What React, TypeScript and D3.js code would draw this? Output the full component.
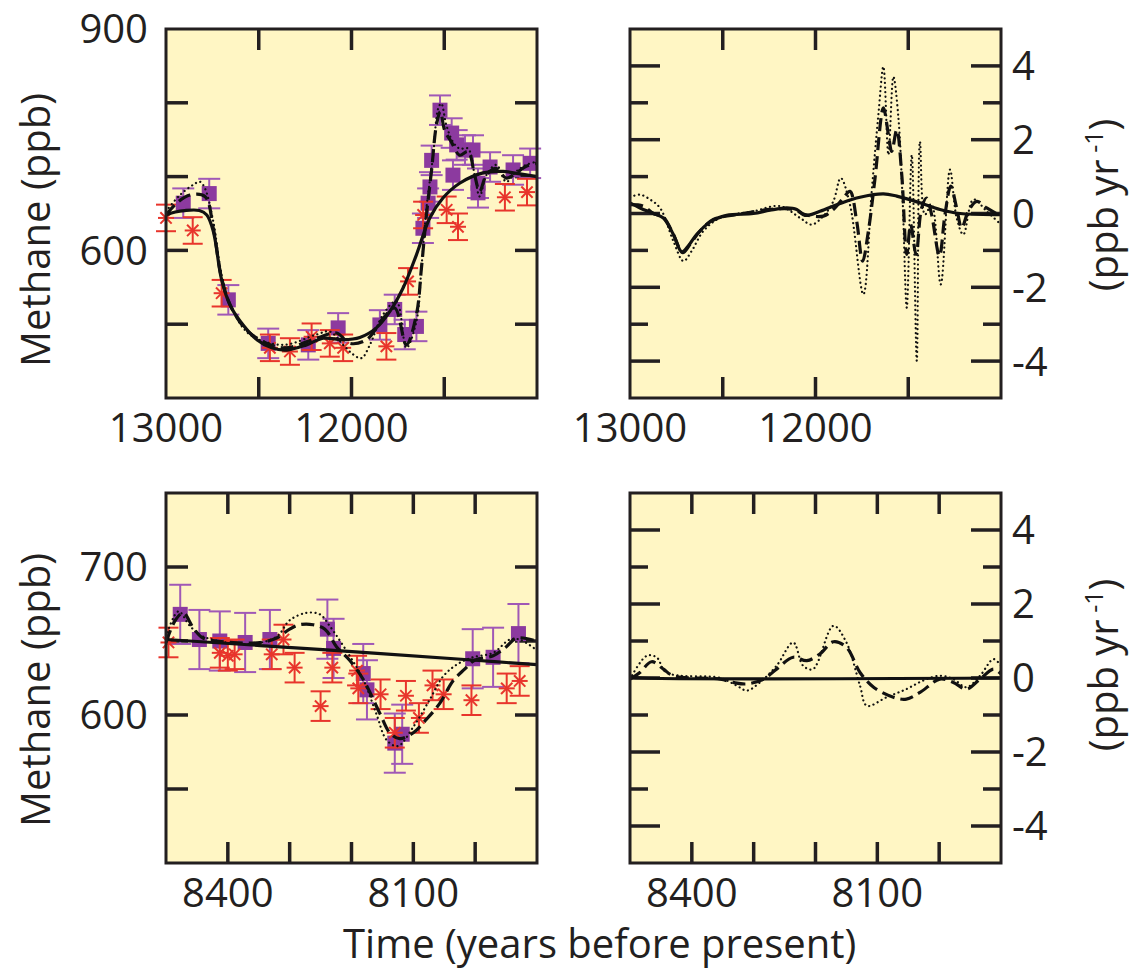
import * as d3 from 'd3';

type P = [number, number];

// ---- top row: 13000-11000 yr BP ----
const tlPurple: P[] = [[12907,664],[12767,677],[12664,533],[12449,474],[12233,472],[12072,495],[11847,499],[11767,520],[11713,486],[11650,497],[11615,630],[11587,664],[11577,686],[11568,722],[11523,790],[11460,759],[11433,743],[11453,702],[11388,736],[11345,736],[11318,691],[11318,678],[11253,713],[11129,709],[11037,718]];
const tlRed: P[] = [[13000,644],[12856,627],[12700,542],[12440,468],[12332,463],[12215,483],[12117,474],[12045,468],[11812,470],[11695,558],[11614,648],[11487,655],[11426,632],[11173,672],[11054,679]];
const tlSolid: P[] = [[13000,648],[12950,652],[12900,654],[12820,654],[12780,648],[12745,626],[12700,560],[12655,526],[12600,504],[12510,479],[12430,468],[12350,465],[12243,472],[12153,481],[12045,479],[11955,482],[11866,495],[11794,517],[11722,549],[11650,594],[11578,644],[11507,671],[11417,691],[11291,705],[11183,707],[11100,704],[11000,700]];
const tlDashed: P[] = [[13000,648],[12943,664],[12871,675],[12790,673],[12745,630],[12700,562],[12646,522],[12548,488],[12368,468],[12189,481],[12081,488],[12009,474],[11919,479],[11830,508],[11767,522],[11704,472],[11650,513],[11623,576],[11596,648],[11569,707],[11542,770],[11521,788],[11498,763],[11462,747],[11417,729],[11372,734],[11336,702],[11309,680],[11273,702],[11219,711],[11166,698],[11112,705],[11058,714],[11004,718]];
const tlDotted: P[] = [[13000,653],[12925,675],[12853,689],[12817,693],[12790,684],[12745,639],[12700,567],[12646,522],[12548,486],[12368,472],[12189,486],[12117,490],[12045,472],[11991,459],[11946,454],[11901,472],[11830,513],[11758,531],[11704,468],[11650,504],[11623,576],[11596,657],[11560,729],[11533,792],[11516,799],[11489,770],[11453,747],[11417,738],[11372,738],[11336,702],[11309,673],[11273,702],[11219,716],[11166,693],[11112,707],[11058,716],[11004,720]];

const trSolid: P[] = [[13000,0.29],[12946,0.15],[12874,0],[12820,-0.12],[12766,-0.57],[12721,-1.04],[12686,-0.88],[12641,-0.57],[12569,-0.23],[12479,-0.05],[12335,0],[12245,0.09],[12155,0.15],[12101,0.11],[12057,-0.05],[11976,0.06],[11868,0.27],[11760,0.44],[11634,0.53],[11562,0.47],[11437,0.29],[11329,0.11],[11221,0],[11000,-0.03]];
const trDashed: P[] = [[13000,0.24],[12928,0.2],[12874,0],[12820,-0.1],[12766,-0.57],[12716,-1.06],[12677,-0.84],[12623,-0.48],[12551,-0.16],[12425,-0.03],[12245,0.11],[12119,0.11],[12057,-0.03],[11958,-0.07],[11904,0.11],[11850,0.42],[11814,0.6],[11778,-0.21],[11746,-1.29],[11715,-0.48],[11679,0.96],[11634,2.86],[11607,2.14],[11589,1.68],[11562,2.27],[11535,1.05],[11508,-1.11],[11487,-0.3],[11458,-1.11],[11428,0.15],[11401,0.42],[11374,-0.03],[11332,-1.15],[11302,-0.03],[11271,0.74],[11239,0.15],[11212,-0.39],[11176,0.06],[11131,0.33],[11077,0.15],[11000,-0.07]];
const trDotted: P[] = [[13000,0.44],[12946,0.51],[12892,0.38],[12838,0.15],[12766,-0.75],[12712,-1.29],[12668,-1.02],[12605,-0.48],[12515,-0.12],[12335,0.06],[12191,0.2],[12083,-0.12],[12021,-0.3],[11958,-0.07],[11904,0.33],[11864,0.96],[11814,0.24],[11742,-2.19],[11697,0.6],[11661,2.68],[11634,3.98],[11607,1.59],[11580,3.71],[11553,2.59],[11530,0.33],[11508,-2.55],[11481,1.59],[11454,-3.99],[11437,1.95],[11410,-0.03],[11374,0.24],[11325,-1.92],[11275,1.19],[11239,-0.12],[11203,-0.57],[11149,0.38],[11077,0.06],[11000,-0.3]];

// ---- bottom row: 8500-7900 yr BP ----
const blPurple: P[] = [[8477,668],[8446,651],[8413,650],[8372,649],[8332,651],[8239,658],[8229,645],[8181,628],[8175,617],[8130,581],[8118,587],[8004,638],[7971,639],[7930,655]];
const blRed: P[] = [[8496,649],[8413,642],[8400,640],[8389,641],[8329,641],[8310,651],[8292,632],[8250,606],[8231,632],[8191,630],[8189,618],[8153,614],[8130,588],[8112,613],[8091,598],[8069,620],[8051,614],[8006,610],[7949,618],[7928,623]];
const blSolid: P[] = [[8500,651],[8240,644],[8000,637],[7900,634]];
const blDashed: P[] = [[8500,649],[8485,664],[8472,669],[8456,659],[8440,652],[8391,649],[8348,649],[8321,652],[8300,658],[8284,661],[8262,661],[8243,658],[8224,646],[8203,637],[8181,624],[8154,601],[8138,588],[8122,584],[8100,588],[8079,597],[8057,608],[8036,623],[8017,631],[8001,637],[7971,640],[7950,646],[7933,652],[7901,650]];
const blDotted: P[] = [[8500,653],[8480,670],[8461,660],[8440,653],[8364,648],[8321,653],[8300,664],[8273,669],[8251,668],[8235,660],[8203,640],[8181,624],[8160,601],[8143,583],[8125,579],[8100,592],[8074,610],[8052,626],[8030,634],[8004,639],[7971,642],[7944,651],[7928,651],[7901,644]];

const brSolid: P[] = [[8500,0.03],[8480,0],[7900,0]];
const brDashed: P[] = [[8500,-0.03],[8484,0.15],[8465,0.44],[8446,0.24],[8430,0.06],[8354,-0.03],[8333,-0.12],[8311,-0.16],[8284,-0.03],[8263,0.24],[8236,0.56],[8214,0.47],[8193,0.65],[8171,0.98],[8150,0.83],[8128,0.15],[8106,-0.25],[8074,-0.52],[8053,-0.57],[8031,-0.39],[7999,-0.03],[7977,-0.12],[7956,-0.3],[7934,-0.03],[7912,0.24],[7900,0.11]];
const brDotted: P[] = [[8500,-0.03],[8473,0.6],[8457,0.56],[8441,0.15],[8354,0],[8327,-0.21],[8311,-0.34],[8290,-0.12],[8263,0.33],[8236,0.96],[8220,0.33],[8204,0.24],[8171,1.41],[8150,0.96],[8128,-0.21],[8117,-0.75],[8085,-0.52],[8053,-0.3],[8026,-0.07],[7999,0.06],[7977,-0.03],[7956,-0.25],[7934,0.06],[7912,0.51],[7900,0.33]];

const topXTicks = [12500, 12000, 11500];
const topXLabels = [13000, 12000];
const botXTicks = [8400, 8300, 8200, 8100, 8000];
const botXLabels = [8400, 8100];
const tlYTicks = [800, 700, 600, 500];
const tlYLabels = [900, 600];
const blYTicks = [700, 650, 600, 550];
const blYLabels = [700, 600];
const rateMajor = [4, 2, 0, -2, -4];
const rateMinor = [3, 1, -1, -3];

const FONT = "'Open Sans', 'Noto Sans', sans-serif";
const INK = '#231f20';
const BG = '#fff6c4';
const PURPLE = '#8c3a9f';
const PURPLE_BAR = '#a058b6';
const RED = '#e8352c';

type PanelProps = {
  id: string;
  x0: number; x1: number; y0: number; y1: number;
  xDomain: [number, number]; yDomain: [number, number];
  xTicks: number[]; xLabels: number[];
  yTicks: number[]; yMinor?: number[]; yLabels: number[];
  labelsRight?: boolean; majorLen?: number;
  purple?: P[]; red?: P[]; purpleErr?: number; redErr?: number;
  solid: P[]; dashed: P[]; dotted: P[];
};

function Panel(p: PanelProps) {
  const xs = d3.scaleLinear().domain(p.xDomain).range([p.x0, p.x1]);
  const ys = d3.scaleLinear().domain(p.yDomain).range([p.y1, p.y0]);
  const line = d3.line<P>().x(d => xs(d[0])).y(d => ys(d[1])).curve(d3.curveCatmullRom.alpha(0.5));
  const xl = 21;
  const yl = p.majorLen ?? 22;
  return (
    <g>
      <defs>
        <clipPath id={p.id}>
          <rect x={p.x0} y={p.y0} width={p.x1 - p.x0} height={p.y1 - p.y0} />
        </clipPath>
      </defs>
      <rect x={p.x0} y={p.y0} width={p.x1 - p.x0} height={p.y1 - p.y0} fill={BG} />
      {/* ticks */}
      <g stroke={INK} strokeWidth={3.5}>
        {p.xTicks.map(t => (
          <g key={'x' + t}>
            <line x1={xs(t)} x2={xs(t)} y1={p.y0} y2={p.y0 + xl} />
            <line x1={xs(t)} x2={xs(t)} y1={p.y1} y2={p.y1 - xl} />
          </g>
        ))}
        {p.yTicks.map(t => (
          <g key={'y' + t}>
            <line x1={p.x0} x2={p.x0 + yl} y1={ys(t)} y2={ys(t)} />
            <line x1={p.x1} x2={p.x1 - yl} y1={ys(t)} y2={ys(t)} />
          </g>
        ))}
        {(p.yMinor ?? []).map(t => (
          <g key={'m' + t}>
            <line x1={p.x0} x2={p.x0 + 18} y1={ys(t)} y2={ys(t)} />
            <line x1={p.x1} x2={p.x1 - 18} y1={ys(t)} y2={ys(t)} />
          </g>
        ))}
      </g>
      {/* data points with error bars */}
      {p.purple && (
        <g stroke={PURPLE_BAR} strokeWidth={2}>
          {p.purple.map((d, i) => {
            const cx = xs(d[0]);
            const top = ys(d[1] + (p.purpleErr ?? 0));
            const bot = ys(d[1] - (p.purpleErr ?? 0));
            return (
              <g key={i}>
                <line x1={cx} x2={cx} y1={top} y2={bot} />
                <line x1={cx - 11} x2={cx + 11} y1={top} y2={top} />
                <line x1={cx - 11} x2={cx + 11} y1={bot} y2={bot} />
              </g>
            );
          })}
        </g>
      )}
      {p.purple && (
        <g fill={PURPLE}>
          {p.purple.map((d, i) => (
            <rect key={i} x={xs(d[0]) - 7.5} y={ys(d[1]) - 7.5} width={15} height={15} />
          ))}
        </g>
      )}
      {p.red && (
        <g stroke={RED} strokeWidth={2}>
          {p.red.map((d, i) => {
            const cx = xs(d[0]);
            const cy = ys(d[1]);
            const top = ys(d[1] + (p.redErr ?? 0));
            const bot = ys(d[1] - (p.redErr ?? 0));
            const r = 8;
            const q = r * Math.SQRT1_2;
            return (
              <g key={i}>
                <line x1={cx} x2={cx} y1={top} y2={bot} />
                <line x1={cx - 10} x2={cx + 10} y1={top} y2={top} />
                <line x1={cx - 10} x2={cx + 10} y1={bot} y2={bot} />
                <line x1={cx - r} x2={cx + r} y1={cy} y2={cy} />
                <line x1={cx - q} x2={cx + q} y1={cy - q} y2={cy + q} />
                <line x1={cx - q} x2={cx + q} y1={cy + q} y2={cy - q} />
              </g>
            );
          })}
        </g>
      )}
      {/* model curves */}
      <g clipPath={`url(#${p.id})`} fill="none" stroke="#111">
        <path d={line(p.dotted) ?? ''} strokeWidth={2.2} strokeDasharray="0.1 4.5" strokeLinecap="round" />
        <path d={line(p.dashed) ?? ''} strokeWidth={3.2} strokeDasharray="13 6" />
        <path d={line(p.solid) ?? ''} strokeWidth={3.2} />
      </g>
      <rect x={p.x0} y={p.y0} width={p.x1 - p.x0} height={p.y1 - p.y0} fill="none" stroke={INK} strokeWidth={3} />
      {/* labels */}
      <g fontFamily={FONT} fontSize={40} fill={INK}>
        {p.xLabels.map(t => (
          <text key={'xl' + t} x={xs(t)} y={p.y1 + 44} textAnchor="middle">{t}</text>
        ))}
        {p.yLabels.map(t => (
          <text key={'yl' + t} x={p.labelsRight ? p.x1 + 11 : p.x0 - 18} y={ys(t)} dy="0.36em"
            textAnchor={p.labelsRight ? 'start' : 'end'}>{t}</text>
        ))}
      </g>
    </g>
  );
}

function RateLabel({ cx, cy }: { cx: number; cy: number }) {
  return (
    <text transform={`translate(${cx},${cy}) rotate(-90)`} textAnchor="middle" fontFamily={FONT} fontSize={40} fill={INK}>
      <tspan>(ppb yr</tspan>
      <tspan dy={-15} fontSize={25}> -1</tspan>
      <tspan dy={15}>)</tspan>
    </text>
  );
}

export default function App() {
  return (
    <svg width={1136} height={972} style={{ position: 'absolute', left: 0, top: 0, background: '#fff' }}>
      <Panel id="c1" x0={166} x1={537} y0={29} y1={398} xDomain={[13000, 11000]} yDomain={[400, 900]}
        xTicks={topXTicks} xLabels={topXLabels} yTicks={tlYTicks} yLabels={tlYLabels}
        purple={tlPurple} red={tlRed} purpleErr={20} redErr={18}
        solid={tlSolid} dashed={tlDashed} dotted={tlDotted} />
      <Panel id="c2" x0={630} x1={1001} y0={29} y1={398} xDomain={[13000, 11000]} yDomain={[-5, 5]}
        xTicks={topXTicks} xLabels={topXLabels} yTicks={rateMajor} yMinor={rateMinor} yLabels={rateMajor}
        labelsRight majorLen={30} solid={trSolid} dashed={trDashed} dotted={trDotted} />
      <Panel id="c3" x0={166} x1={537} y0={493} y1={863} xDomain={[8500, 7900]} yDomain={[500, 750]}
        xTicks={botXTicks} xLabels={botXLabels} yTicks={blYTicks} yLabels={blYLabels}
        purple={blPurple} red={blRed} purpleErr={20} redErr={10}
        solid={blSolid} dashed={blDashed} dotted={blDotted} />
      <Panel id="c4" x0={630} x1={1001} y0={493} y1={863} xDomain={[8500, 7900]} yDomain={[-5, 5]}
        xTicks={botXTicks} xLabels={botXLabels} yTicks={rateMajor} yMinor={rateMinor} yLabels={rateMajor}
        labelsRight majorLen={30} solid={brSolid} dashed={brDashed} dotted={brDotted} />

      <text transform="translate(50,230) rotate(-90)" textAnchor="middle" fontFamily={FONT} fontSize={40} fill={INK}>Methane (ppb)</text>
      <text transform="translate(50,690) rotate(-90)" textAnchor="middle" fontFamily={FONT} fontSize={40} fill={INK}>Methane (ppb)</text>
      <RateLabel cx={1118} cy={205} />
      <RateLabel cx={1118} cy={665} />
      <text x={343} y={958} fontFamily={FONT} fontSize={40} fill={INK}>Time (years before present)</text>
    </svg>
  );
}
